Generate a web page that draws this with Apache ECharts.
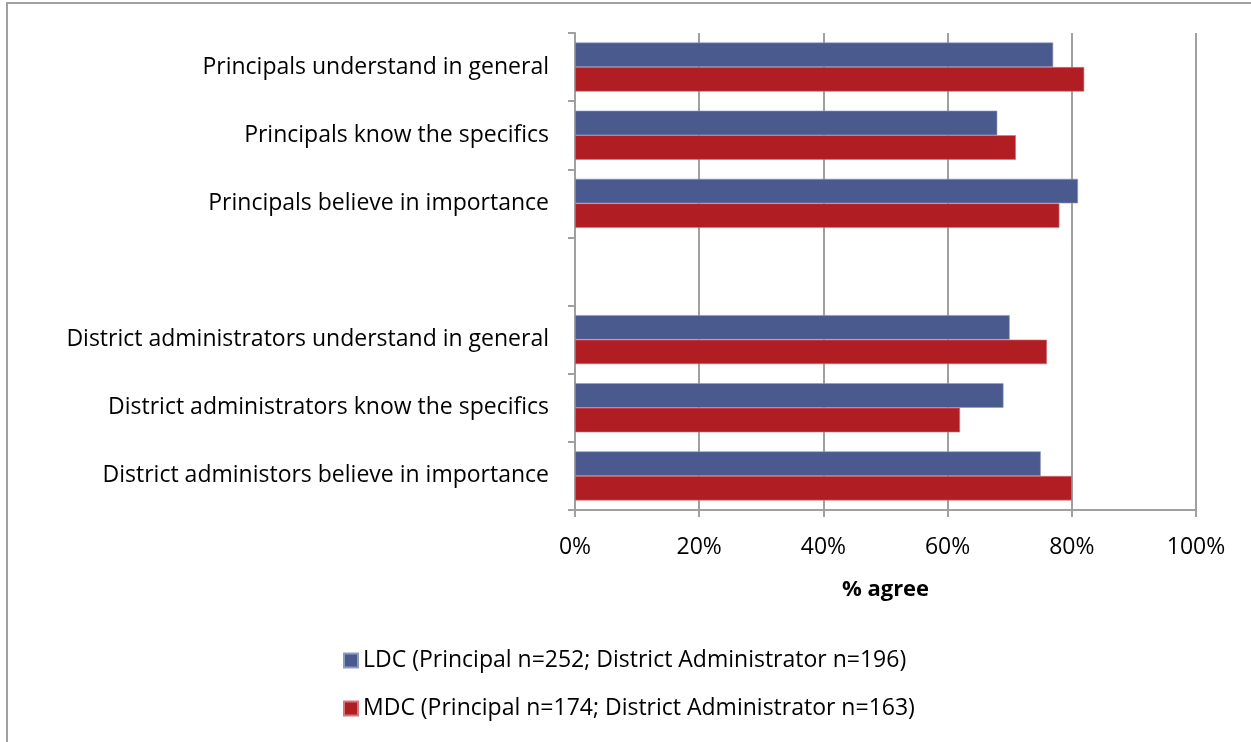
<!DOCTYPE html>
<html>
<head>
<meta charset="utf-8">
<script src="https://cdn.jsdelivr.net/npm/echarts@6/dist/echarts.min.js"></script>
<style>
  html, body { margin: 0; padding: 0; background: #fff; }
  #chart { width: 1251px; height: 742px; }
</style>
</head>
<body>
<div id="chart"></div>
<script>
// Survey items, top to bottom; the empty entry separates the two groups
const categories = [
  'Principals understand in general',
  'Principals know the specifics',
  'Principals believe in importance',
  '',
  'District administrators understand in general',
  'District administrators know the specifics',
  'District administors believe in importance'
];
// Percent agreeing
const ldcValues = [77, 68, 81, null, 70, 69, 75];
const mdcValues = [82, 71, 78, null, 76, 62, 80];
const seriesNames = [
  'LDC (Principal n=252; District Administrator n=196)',
  'MDC (Principal n=174; District Administrator n=163)'
];
const xTicks = { min: 0, max: 100, interval: 20 };

const FONT = 'Open Sans';
const chart = echarts.init(document.getElementById('chart'));
chart.setOption({
  animation: false,
  backgroundColor: '#fff',
  textStyle: { fontFamily: FONT, color: '#000' },
  graphic: [{
    type: 'rect',
    shape: { x: 7, y: 3, width: 1400, height: 900 },
    style: { fill: 'none', stroke: '#a0a0a0', lineWidth: 2 },
    silent: true
  }],
  grid: { left: 575, right: 55, top: 33, bottom: 232, containLabel: false },
  legend: {
    orient: 'vertical',
    left: 338,
    top: 644,
    itemWidth: 14,
    itemHeight: 14,
    itemGap: 25,
    icon: 'rect',
    textStyle: { fontFamily: FONT, fontSize: 23, color: '#000' },
    data: seriesNames
  },
  xAxis: {
    type: 'value',
    min: xTicks.min,
    max: xTicks.max,
    interval: xTicks.interval,
    name: '% agree',
    nameLocation: 'middle',
    nameGap: 69,
    nameTextStyle: { fontFamily: FONT, fontSize: 22, fontWeight: 'bold', color: '#000' },
    axisLine: { show: true, lineStyle: { color: '#a0a0a0', width: 2 } },
    axisTick: { show: true, length: 7, lineStyle: { color: '#a0a0a0', width: 2 } },
    axisLabel: { formatter: '{value}%', fontSize: 23, color: '#000', margin: 26 },
    splitLine: { show: true, lineStyle: { color: '#a0a0a0', width: 2 } }
  },
  yAxis: {
    type: 'category',
    inverse: true,
    data: categories,
    axisLine: { show: true, lineStyle: { color: '#a0a0a0', width: 2 } },
    axisTick: { show: true, length: 7, lineStyle: { color: '#a0a0a0', width: 2 } },
    axisLabel: { fontSize: 23, color: '#000', margin: 26 },
    splitLine: { show: false }
  },
  series: [
    {
      name: seriesNames[0],
      type: 'bar',
      data: ldcValues,
      barGap: '0%',
      barCategoryGap: '28%',
      itemStyle: { color: '#4a5a8e', borderColor: '#8d9ac4', borderWidth: 0.6 }
    },
    {
      name: seriesNames[1],
      type: 'bar',
      data: mdcValues,
      barGap: '0%',
      barCategoryGap: '28%',
      itemStyle: { color: '#b01e24', borderColor: '#d4777b', borderWidth: 0.6 }
    }
  ]
});
</script>
</body>
</html>
